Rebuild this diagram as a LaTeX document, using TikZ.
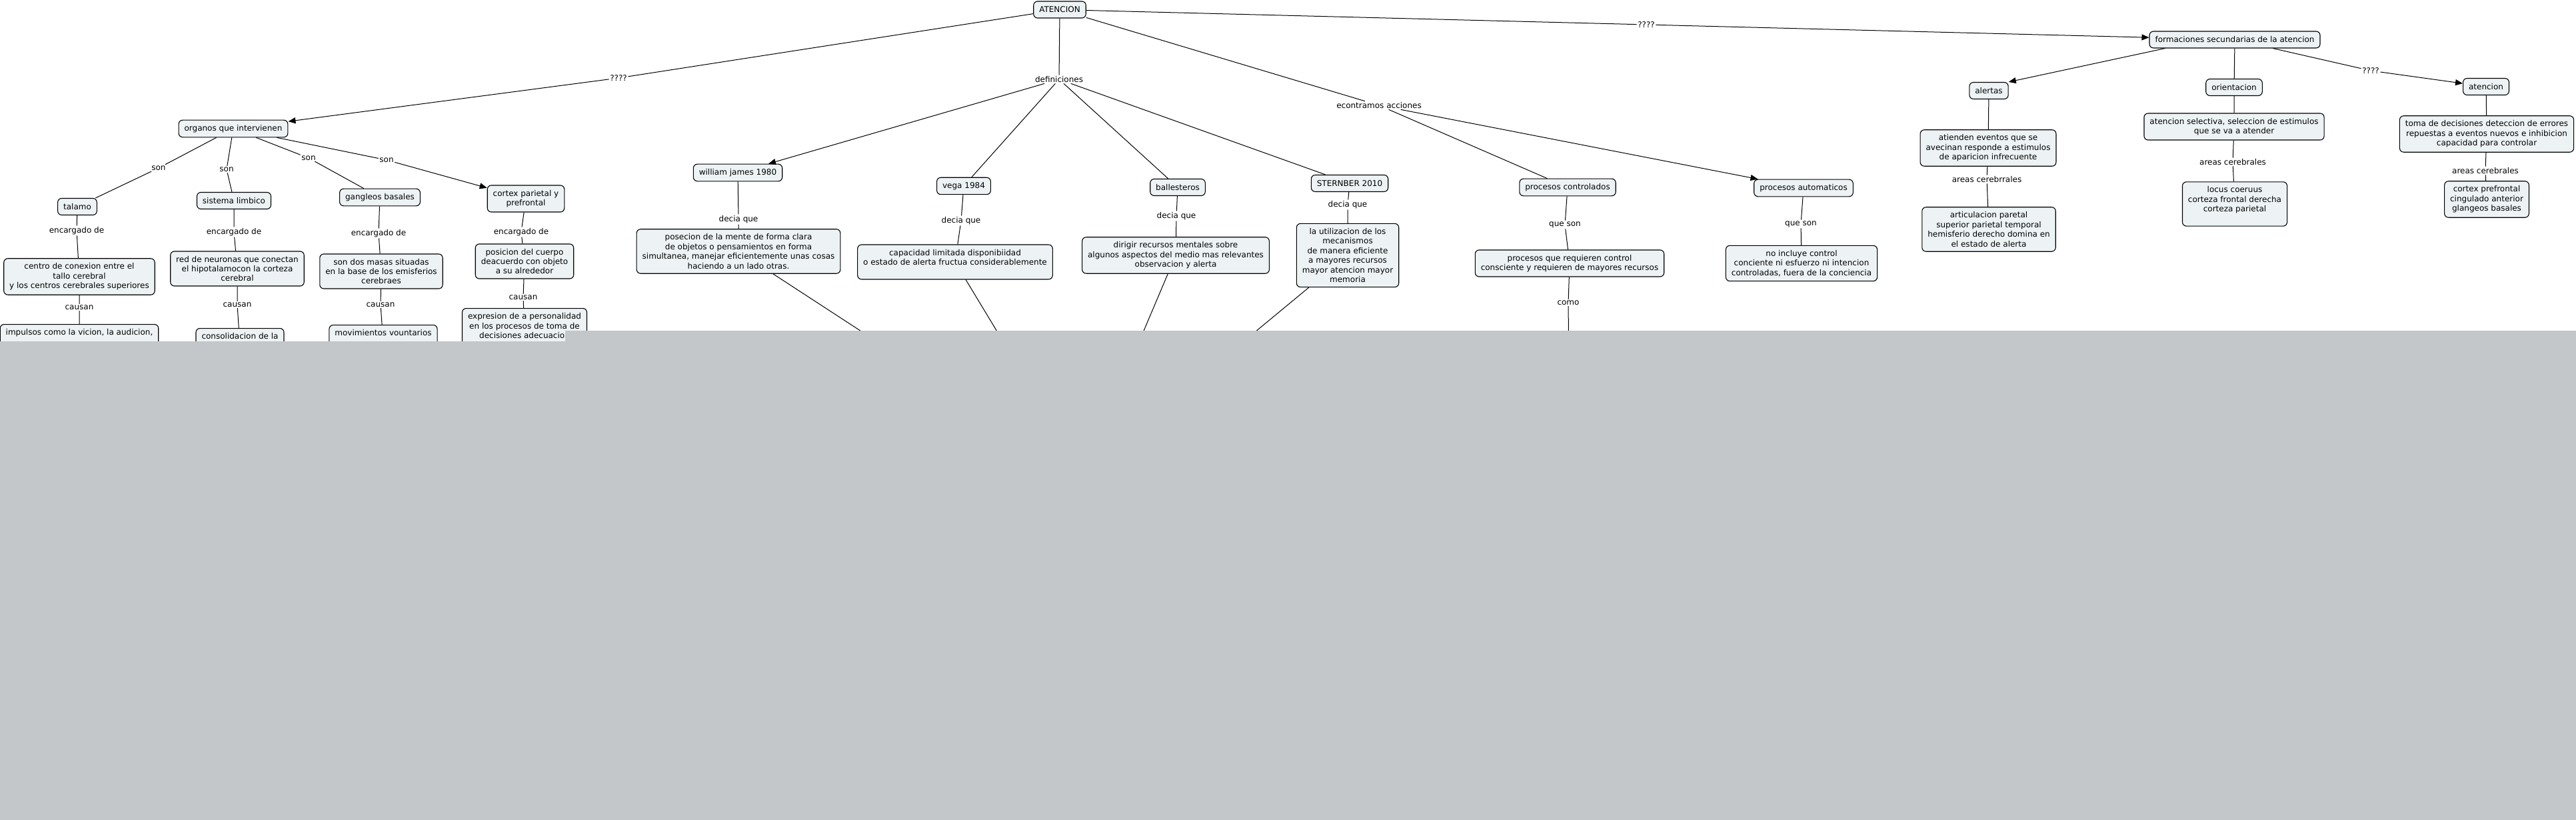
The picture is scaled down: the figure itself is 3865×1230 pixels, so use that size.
\documentclass[tikz,border=0pt]{standalone}
\usepackage{fontspec}
\setmainfont{DejaVu Sans}
\usetikzlibrary{arrows.meta}
\definecolor{cfill}{RGB}{237,243,245}
\definecolor{coverfill}{RGB}{195,199,202}

\begin{document}
\begin{tikzpicture}[x=1pt,y=-1pt,
  concept/.style={draw,line width=1.1pt,rounded corners=6pt,fill=cfill,align=center,
    inner xsep=8.5pt,inner ysep=7pt,minimum height=25pt,font=\fontsize{12}{14.4}\selectfont},
  phrase/.style={fill=white,inner sep=1.5pt,font=\fontsize{12}{14.4}\selectfont},
  link/.style={line width=1pt},
  arr/.style={link,-{Triangle[length=11pt,width=9pt]}}]
\useasboundingbox (0,0) rectangle (3865,1230);

\node[concept] (atencion) at (1590,14.5) {ATENCION};
\node[concept] (formaciones) at (3353,59.5) {formaciones secundarias de la atencion};
\node[concept] (organos) at (350,193) {organos que intervienen};
\node[concept] (talamo) at (116,310) {talamo};
\node[concept] (limbico) at (351,301) {sistema limbico};
\node[concept] (gangleos) at (570,296) {gangleos basales};
\node[concept] (cortexpp) at (789,298) {cortex parietal y\\prefrontal};
\node[concept] (centro) at (119,415) {centro de conexion entre el\\tallo cerebral\\y los centros cerebrales superiores};
\node[concept] (red) at (356,403) {red de neuronas que conectan\\el hipotalamocon la corteza\\cerebral};
\node[concept] (masas) at (572,407) {son dos masas situadas\\en la base de los emisferios\\cerebraes};
\node[concept] (posicion) at (787,392) {posicion del cuerpo\\deacuerdo con objeto\\a su alrededor};
\node[concept,anchor=north] (impulsos) at (119,486) {impulsos como la vicion, la audicion,\\ \mbox{}\\ \mbox{}};
\node[concept,anchor=north] (consolidacion) at (360,492) {consolidacion de la\\ \mbox{}\\ \mbox{}};
\node[concept,anchor=north] (movimientos) at (575,487) {movimientos vountarios\\ \mbox{}\\ \mbox{}};
\node[concept,anchor=north] (expresion) at (787,462) {expresion de a personalidad\\en los procesos de toma de\\decisiones adecuacion\\ \mbox{}};

\node[concept] (james) at (1107,259) {william james 1980};
\node[concept] (vega) at (1446,279) {vega 1984};
\node[concept] (ballesteros) at (1767,281) {ballesteros};
\node[concept] (sternber) at (2025,275) {STERNBER 2010};
\node[concept] (controlados) at (2352,281) {procesos controlados};
\node[concept] (automaticos) at (2706,282) {procesos automaticos};
\node[concept] (posecion) at (1108,377) {posecion de la mente de forma clara\\de objetos o pensamientos en forma\\simultanea, manejar eficientemente unas cosas\\haciendo a un lado otras.};
\node[concept] (capacidad) at (1433,393) {capacidad limitada disponibiidad\\o estado de alerta fructua considerablemente\\ \mbox{}};
\node[concept] (dirigir) at (1764,383) {dirigir recursos mentales sobre\\algunos aspectos del medio mas relevantes\\observacion y alerta};
\node[concept] (utilizacion) at (2022,383) {la utilizacion de los\\mecanismos\\de manera eficiente\\a mayores recursos\\mayor atencion mayor\\memoria};
\node[concept] (requieren) at (2355,395) {procesos que requieren control\\consciente y requieren de mayores recursos};
\node[concept] (noincluye) at (2703,395) {no incluye control\\conciente ni esfuerzo ni intencion\\controladas, fuera de la conciencia};

\node[concept] (alertas) at (2984,136) {alertas};
\node[concept] (orientacion) at (3352,131) {orientacion};
\node[concept] (atencionb) at (3730,130) {atencion};
\node[concept] (atienden) at (2983,222) {atienden eventos que se\\avecinan responde a estimulos\\de aparicion infrecuente};
\node[concept] (selectiva) at (3352,190) {atencion selectiva, seleccion de estimulos\\que se va a atender};
\node[concept] (toma) at (3731,201) {toma de decisiones deteccion de errores\\repuestas a eventos nuevos e inhibicion\\capacidad para controlar};
\node[concept] (articulacion) at (2984,344) {articulacion paretal\\superior parietal temporal\\hemisferio derecho domina en\\el estado de alerta};
\node[concept] (locus) at (3353,306) {locus coeruus\\corteza frontal derecha\\corteza parietal\\ \mbox{}};
\node[concept] (cortexpf) at (3731,299) {cortex prefrontal\\cingulado anterior\\glangeos basales};

\node[phrase] (qa) at (928,117) {????};
\node[phrase] (defs) at (1589,119) {definiciones};
\node[phrase] (qb) at (2470,37) {????};
\node[phrase] (acciones) at (2069,158) {econtramos acciones};
\node[phrase] (qc) at (3557,106) {????};
\node[phrase] (sona) at (238,252) {son};
\node[phrase] (sonb) at (340,254) {son};
\node[phrase] (sonc) at (463,237) {son};
\node[phrase] (sond) at (580,240) {son};
\node[phrase] (enca) at (115,346) {encargado de};
\node[phrase] (encb) at (351,348) {encargado de};
\node[phrase] (encc) at (568,350) {encargado de};
\node[phrase] (encd) at (782,348) {encargado de};
\node[phrase] (caua) at (119,461) {causan};
\node[phrase] (caub) at (356,457) {causan};
\node[phrase] (cauc) at (571,457) {causan};
\node[phrase] (caud) at (785,446) {causan};
\node[phrase] (deca) at (1108,329) {decia que};
\node[phrase] (decb) at (1442,331) {decia que};
\node[phrase] (decc) at (1765,324) {decia que};
\node[phrase] (decd) at (2022,307) {decia que};
\node[phrase] (quea) at (2348,337) {que son};
\node[phrase] (queb) at (2702,336) {que son};
\node[phrase] (como) at (2353,454) {como};
\node[phrase] (areaa) at (2981,269) {areas cerebrrales};
\node[phrase] (areab) at (3350,243) {areas cerebrales};
\node[phrase] (areac) at (3729,256) {areas cerebrales};

\coordinate (hposecion) at (1389,560);
\coordinate (hcapacidad) at (1534,560);
\coordinate (hdirigir) at (1689,560);
\coordinate (hutilizacion) at (1808,560);
\coordinate (hcomo) at (2354,560);

\draw[link] (atencion) -- (qa);
\draw[arr] (qa) -- (organos);
\draw[link] (atencion) -- (defs);
\draw[link] (atencion) -- (acciones);
\draw[link] (atencion) -- (qb);
\draw[arr] (qb) -- (formaciones);

\draw[link] (organos) -- (sona) (sona) -- (talamo);
\draw[link] (organos) -- (sonb) (sonb) -- (limbico);
\draw[link] (organos) -- (sonc) (sonc) -- (gangleos);
\draw[link] (organos) -- (sond);
\draw[arr] (sond) -- (cortexpp);
\draw[link] (talamo) -- (enca) (enca) -- (centro) (centro) -- (caua) (caua) -- (impulsos);
\draw[link] (limbico) -- (encb) (encb) -- (red) (red) -- (caub) (caub) -- (consolidacion);
\draw[link] (gangleos) -- (encc) (encc) -- (masas) (masas) -- (cauc) (cauc) -- (movimientos);
\draw[link] (cortexpp) -- (encd) (encd) -- (posicion) (posicion) -- (caud) (caud) -- (expresion);

\draw[arr] (defs) -- (james);
\draw[link] (defs) -- (vega) (defs) -- (ballesteros) (defs) -- (sternber);
\draw[link] (james) -- (deca) (deca) -- (posecion) (posecion) -- (hposecion);
\draw[link] (vega) -- (decb) (decb) -- (capacidad) (capacidad) -- (hcapacidad);
\draw[link] (ballesteros) -- (decc) (decc) -- (dirigir) (dirigir) -- (hdirigir);
\draw[link] (sternber) -- (decd) (decd) -- (utilizacion) (utilizacion) -- (hutilizacion);

\draw[link] (acciones) -- (controlados);
\draw[arr] (acciones) -- (automaticos);
\draw[link] (controlados) -- (quea) (quea) -- (requieren) (requieren) -- (como) (como) -- (hcomo);
\draw[link] (automaticos) -- (queb) (queb) -- (noincluye);

\draw[arr] ([xshift=24pt]formaciones.south west) -- (alertas.north east);
\draw[link] (formaciones) -- (orientacion);
\draw[link] (formaciones) -- (qc);
\draw[arr] (qc) -- (atencionb);
\draw[link] (alertas) -- (atienden) (atienden) -- (areaa) (areaa) -- (articulacion);
\draw[link] (orientacion) -- (selectiva) (selectiva) -- (areab) (areab) -- (locus);
\draw[link] (atencionb) -- (toma) (toma) -- (areac) (areac) -- (cortexpf);

\fill[coverfill] (0,512) -- (848,512) -- (848,496) -- (3865,496) -- (3865,1230) -- (0,1230) -- cycle;
\end{tikzpicture}
\end{document}
